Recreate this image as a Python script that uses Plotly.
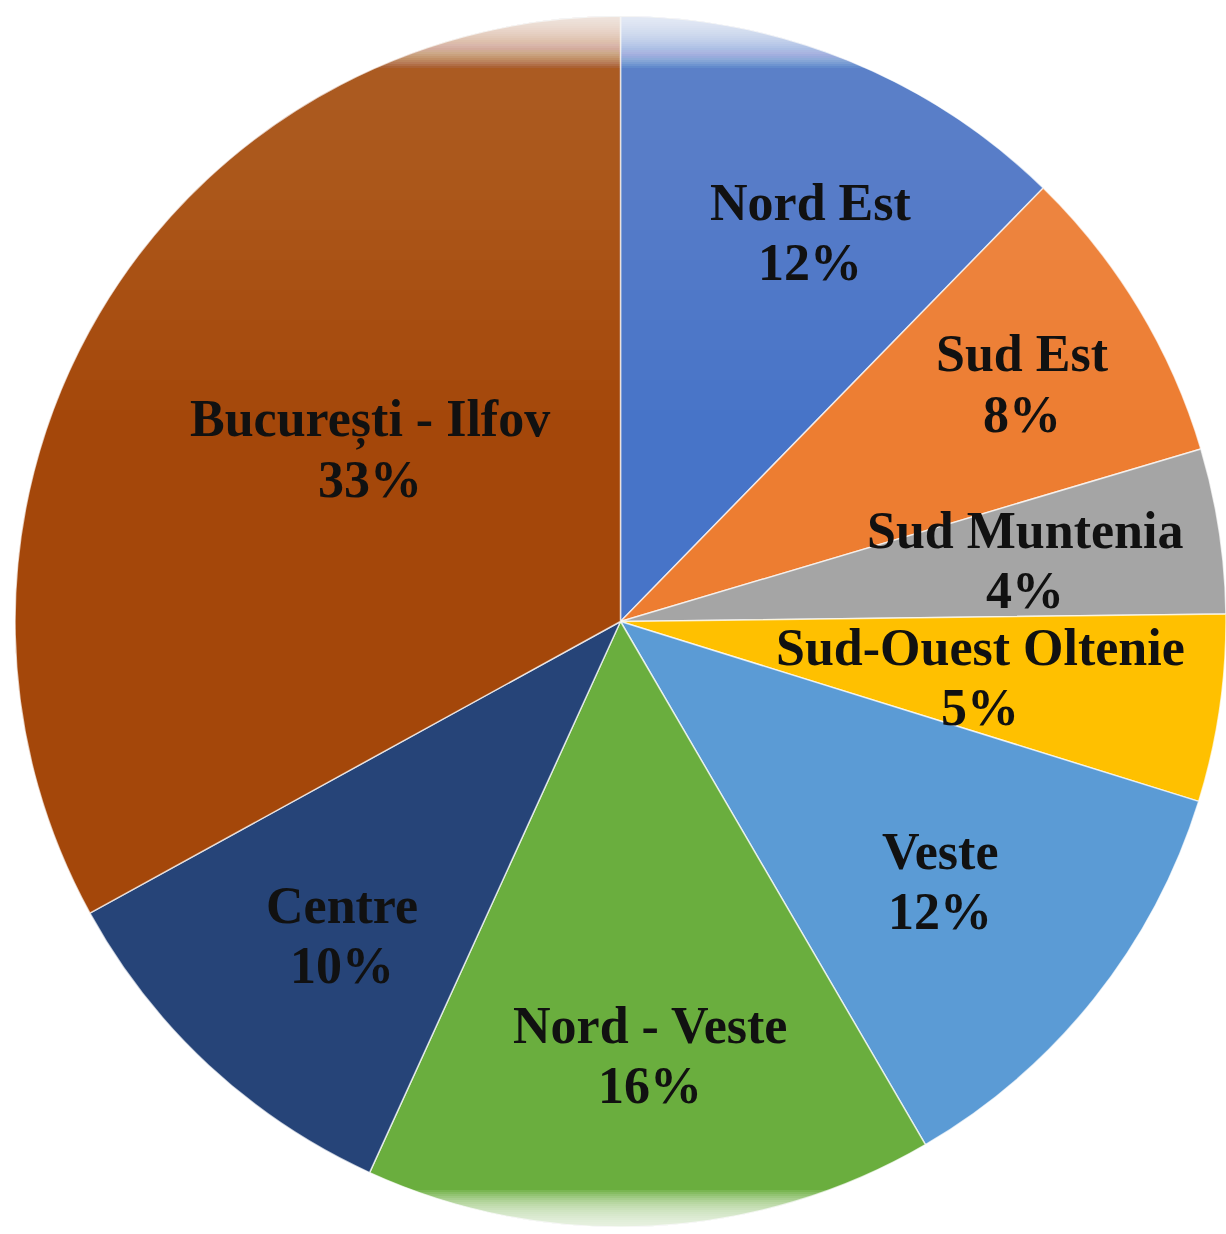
import plotly.graph_objects as go

regions = ["Nord Est", "Sud Est", "Sud Muntenia", "Sud-Ouest Oltenie",
           "Veste", "Nord - Veste", "Centre", "București - Ilfov"]
# slice sizes (percent of whole)
shares = [12.3, 8.1, 4.4, 5.0, 11.8, 15.2, 10.2, 33.0]
# percentages printed on the chart
pct_labels = ["12%", "8%", "4%", "5%", "12%", "16%", "10%", "33%"]
colors = ["#4774C8", "#ED7D31", "#A5A5A5", "#FFC000",
          "#5B9BD5", "#6AAE3E", "#264478", "#A4470A"]
# label anchor positions in pixels (x, y) of the 1226x1234 canvas
label_px = [(810, 233), (1022, 384), (1025, 560), (980, 678),
            (940, 881), (650, 1055), (342, 935), (370, 450)]

W, H = 1226, 1234

fig = go.Figure(go.Pie(
    labels=regions,
    values=shares,
    sort=False,
    direction="clockwise",
    rotation=0,
    marker=dict(colors=colors, line=dict(color="rgba(255,255,255,0.7)", width=1.5)),
    textinfo="none",
    hoverinfo="label+percent",
    showlegend=False,
    domain=dict(x=[15 / W, 1.0], y=[1 - 1228 / H, 1 - 15 / H]),
))

FONT = dict(family="Liberation Serif", size=52, color="#111111")
for name, pct, (px, py) in zip(regions, pct_labels, label_px):
    fig.add_annotation(
        x=px / W, y=1 - (py - 30) / H, xref="paper", yref="paper",
        text=f"<b>{name}</b>", showarrow=False,
        xanchor="center", yanchor="middle", font=FONT,
    )
    fig.add_annotation(
        x=px / W, y=1 - (py + 30) / H, xref="paper", yref="paper",
        text=f"<b>{pct}</b>", showarrow=False,
        xanchor="center", yanchor="middle", font=FONT,
    )

# soft white fade at the top and bottom rims of the pie
shapes = []
for k in range(28):
    y_top = 14 + 2 * k
    shapes.append(dict(type="rect", xref="paper", yref="paper",
                       x0=0, x1=1, y0=1 - y_top / H, y1=1,
                       fillcolor="white", opacity=0.08, line=dict(width=0),
                       layer="above"))
for k in range(22):
    y_bot = 1232 - 2 * k
    shapes.append(dict(type="rect", xref="paper", yref="paper",
                       x0=0, x1=1, y0=0, y1=1 - y_bot / H,
                       fillcolor="white", opacity=0.10, line=dict(width=0),
                       layer="above"))
# very light wash on the upper part (slices look lighter towards the top)
for k in range(12):
    y_top = 80 + 30 * k
    shapes.append(dict(type="rect", xref="paper", yref="paper",
                       x0=0, x1=1, y0=1 - y_top / H, y1=1,
                       fillcolor="white", opacity=0.01, line=dict(width=0),
                       layer="above"))

fig.update_layout(
    width=W, height=H,
    margin=dict(l=0, r=0, t=0, b=0),
    paper_bgcolor="white", plot_bgcolor="white",
    shapes=shapes,
)

fig.write_html(
    "out.html",
    config={"displayModeBar": False},
    post_script="document.body.style.margin='0';document.body.style.overflow='hidden';",
)
